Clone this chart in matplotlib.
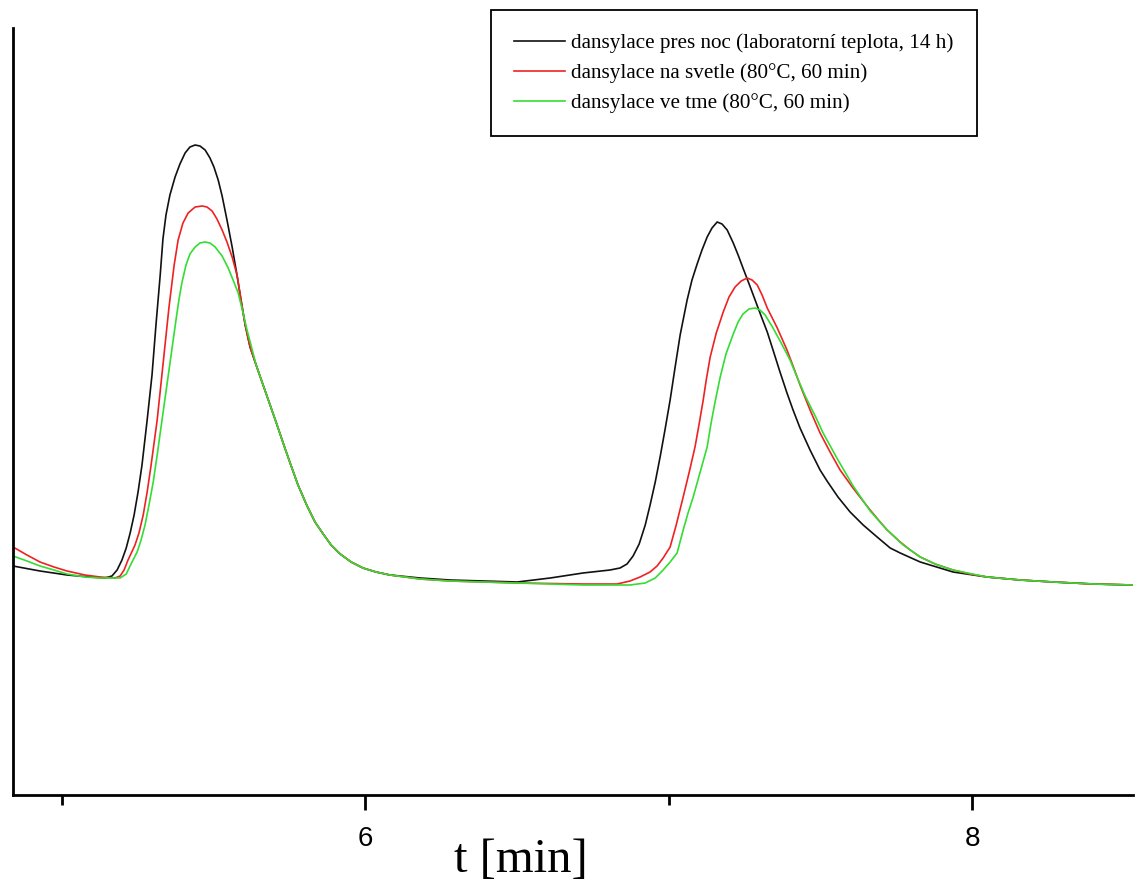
import numpy as np
import matplotlib
matplotlib.use("Agg")
import matplotlib.pyplot as plt
from matplotlib.ticker import FixedLocator

# chromatogram traces (t in min, signal in arbitrary units)
t_black = [4.840, 4.929, 5.018, 5.094, 5.143, 5.166, 5.183, 5.199, 5.213, 5.226,
           5.239, 5.252, 5.265, 5.282, 5.298, 5.311, 5.325, 5.334, 5.344, 5.357,
           5.374, 5.390, 5.407, 5.423, 5.440, 5.456, 5.473, 5.489, 5.502, 5.516,
           5.529, 5.545, 5.562, 5.578, 5.591, 5.605, 5.621, 5.641, 5.664, 5.687,
           5.710, 5.730, 5.753, 5.779, 5.809, 5.835, 5.862, 5.888, 5.918, 5.954,
           5.993, 6.036, 6.082, 6.181, 6.280, 6.501, 6.610, 6.718, 6.807, 6.840,
           6.863, 6.883, 6.903, 6.923, 6.939, 6.956, 6.972, 6.988, 7.005, 7.021,
           7.038, 7.061, 7.077, 7.094, 7.110, 7.127, 7.143, 7.160, 7.176, 7.193,
           7.213, 7.229, 7.245, 7.269, 7.285, 7.301, 7.325, 7.344, 7.367, 7.390,
           7.410, 7.433, 7.466, 7.499, 7.522, 7.558, 7.598, 7.641, 7.687, 7.730,
           7.763, 7.829, 7.937, 8.049, 8.158, 8.267, 8.399, 8.530]
s_black = [229, 224, 220, 218, 217, 219, 225, 235, 247, 262,
           280, 303, 330, 375, 420, 470, 520, 556, 580, 600,
           618, 631, 642, 648, 650, 649, 645, 637, 628, 615,
           599, 575, 548, 520, 495, 470, 448, 430, 410, 390,
           370, 352, 332, 310, 289, 273, 261, 250, 241, 233,
           227, 223, 220, 217, 215, 213, 217, 222, 225, 227,
           231, 239, 251, 270, 290, 313, 338, 365, 395, 427,
           460, 495, 515, 531, 545, 558, 567, 573, 571, 565,
           552, 540, 527, 508, 495, 482, 463, 445, 423, 402,
           385, 367, 345, 325, 314, 298, 283, 270, 258, 247,
           242, 233, 223, 218, 215, 213, 211, 210]

t_red = [4.840, 4.886, 4.929, 4.975, 5.018, 5.077, 5.127, 5.176, 5.193, 5.206,
         5.219, 5.242, 5.255, 5.269, 5.282, 5.295, 5.315, 5.334, 5.354, 5.371,
         5.384, 5.400, 5.417, 5.440, 5.463, 5.479, 5.496, 5.512, 5.529, 5.545,
         5.562, 5.578, 5.591, 5.605, 5.621, 5.641, 5.664, 5.687, 5.710, 5.730,
         5.753, 5.779, 5.809, 5.835, 5.862, 5.888, 5.918, 5.954, 5.993, 6.036,
         6.082, 6.181, 6.280, 6.501, 6.718, 6.830, 6.873, 6.906, 6.939, 6.962,
         6.982, 7.005, 7.025, 7.048, 7.068, 7.087, 7.100, 7.114, 7.124, 7.137,
         7.157, 7.180, 7.199, 7.219, 7.239, 7.259, 7.275, 7.292, 7.308, 7.325,
         7.358, 7.390, 7.410, 7.433, 7.466, 7.499, 7.532, 7.565, 7.605, 7.638,
         7.664, 7.697, 7.720, 7.763, 7.796, 7.829, 7.878, 7.937, 7.993, 8.049,
         8.158, 8.267, 8.399, 8.530]
s_red = [248, 240, 233, 228, 224, 220, 218, 217, 219, 225,
         235, 250, 262, 280, 303, 330, 375, 430, 488, 530,
         555, 572, 582, 588, 589, 588, 584, 576, 565, 553,
         538, 520, 496, 470, 448, 430, 410, 390, 370, 352,
         332, 310, 289, 273, 261, 250, 241, 233, 227, 223,
         220, 216, 214, 212, 211, 211, 214, 218, 223, 229,
         237, 248, 270, 298, 323, 348, 370, 395, 415, 438,
         462, 483, 498, 508, 514, 517, 515, 510, 500, 487,
         467, 445, 429, 410, 385, 362, 343, 325, 308, 295,
         285, 273, 265, 253, 245, 238, 231, 225, 221, 218,
         215, 213, 211, 210]

t_green = [4.840, 4.886, 4.929, 4.975, 5.018, 5.077, 5.127, 5.193, 5.213, 5.232,
           5.249, 5.262, 5.275, 5.288, 5.302, 5.315, 5.331, 5.354, 5.377, 5.387,
           5.397, 5.410, 5.423, 5.440, 5.456, 5.473, 5.489, 5.506, 5.529, 5.549,
           5.565, 5.582, 5.598, 5.611, 5.624, 5.641, 5.664, 5.687, 5.710, 5.730,
           5.753, 5.779, 5.809, 5.835, 5.862, 5.888, 5.918, 5.954, 5.993, 6.036,
           6.082, 6.181, 6.280, 6.501, 6.718, 6.873, 6.923, 6.956, 6.982, 7.005,
           7.028, 7.048, 7.064, 7.081, 7.104, 7.127, 7.140, 7.153, 7.170, 7.189,
           7.213, 7.229, 7.245, 7.265, 7.285, 7.301, 7.318, 7.344, 7.371, 7.400,
           7.423, 7.450, 7.483, 7.509, 7.558, 7.608, 7.664, 7.720, 7.773, 7.829,
           7.878, 7.937, 8.049, 8.158, 8.267, 8.399, 8.530]
s_green = [239, 234, 229, 225, 221, 218, 217, 217, 221, 233,
           243, 255, 270, 290, 313, 340, 375, 425, 475, 496,
           513, 530, 541, 548, 552, 553, 552, 548, 539, 527,
           515, 502, 482, 465, 450, 430, 410, 390, 370, 352,
           332, 310, 289, 273, 261, 250, 241, 233, 227, 223,
           220, 216, 214, 212, 210, 210, 212, 217, 225, 233,
           242, 265, 282, 298, 323, 348, 372, 393, 418, 441,
           461, 473, 481, 486, 487, 485, 480, 467, 452, 435,
           418, 399, 379, 362, 335, 309, 284, 265, 250, 238,
           231, 225, 218, 215, 213, 211, 210]

labels = ["dansylace pres noc (laboratorní teplota, 14 h)",
          "dansylace na svetle (80°C, 60 min)",
          "dansylace ve tme (80°C, 60 min)"]
colors = ["#111111", "#ee2222", "#33dd33"]

fig = plt.figure(figsize=(11.36, 8.85), dpi=100)
ax = fig.add_axes([13 / 1136, 90 / 885, 1120 / 1136, 767 / 885])

ax.plot(t_black, s_black, color=colors[0], lw=1.2, label=labels[0])
ax.plot(t_red, s_red, color=colors[1], lw=1.2, label=labels[1])
ax.plot(t_green, s_green, color=colors[2], lw=1.2, label=labels[2])

ax.set_xlim(4.840, 8.530)
ax.set_ylim(0, 767)

for side in ["top", "right"]:
    ax.spines[side].set_visible(False)
for side in ["left", "bottom"]:
    ax.spines[side].set_linewidth(2)

ax.set_yticks([])
ax.xaxis.set_major_locator(FixedLocator([6, 8]))
ax.xaxis.set_minor_locator(FixedLocator([5, 7]))
ax.tick_params(axis="x", which="major", length=11, width=2, pad=11,
               labelsize=20, labelfontfamily="Liberation Sans")
ax.tick_params(axis="x", which="minor", length=7, width=2)

ax.set_xlabel("t [min]", family="Liberation Serif", fontsize=35)
ax.xaxis.set_label_coords(0.4536, -0.0847)
ax.xaxis.label.set_va("center")

leg = ax.legend(loc="upper right", bbox_to_anchor=(977 / 1136, 1 - 10 / 885),
                bbox_transform=fig.transFigure, borderaxespad=0,
                prop={"family": "Liberation Serif", "size": 15.2},
                fancybox=False, framealpha=1, edgecolor="black",
                handlelength=2.4, handletextpad=0.3, borderpad=1.1,
                labelspacing=0.48)
leg.get_frame().set_linewidth(1.3)

fig.savefig("out.png", dpi=100)
